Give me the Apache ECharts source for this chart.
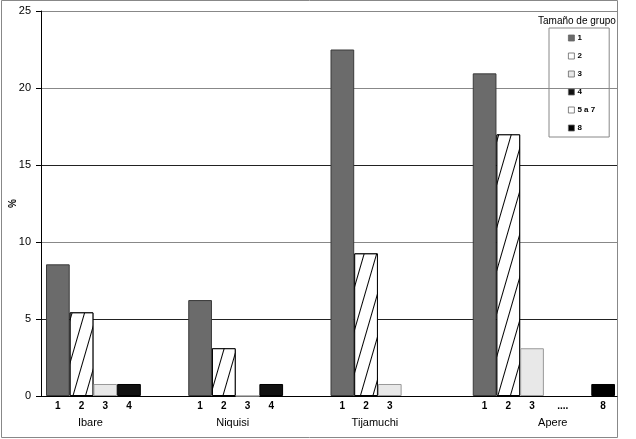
<!DOCTYPE html>
<html>
<head>
<meta charset="utf-8">
<script src="https://cdn.jsdelivr.net/npm/echarts@6/dist/echarts.min.js"></script>
<style>
  html, body { margin: 0; padding: 0; background: #fff; }
  #chart { width: 636px; height: 439px; }
</style>
</head>
<body>
<div id="chart"></div>
<script>
// slot labels under each bar (one slot per bar position)
const slotLabels = ['1','2','3','4','','','1','2','3','4','','','1','2','3','','','','1','2','3','....','','8']
const groups = ['Ibare', 'Niquisi', 'Tijamuchi', 'Apere']
const sizeNames = ['1', '2', '3', '4', '5 a 7', '8']

// % por tamaño de grupo, en orden de groups
const pct1 = [8.55, 6.23, 22.5, 20.95]
const pct2 = [5.43, 3.10, 9.26, 16.99]
const pct3 = [0.78, 0, 0.78, 3.10]
const pct4 = [0.78, 0.78, null, null]
const pct5a7 = [null, null, null, null]
const pct8 = [null, null, null, 0.78]
const yTicks = [0, 5, 10, 15, 20, 25]

// layout: first slot of each group, slot offset of each size, group label centre (in slots)
const groupStart = [0, 6, 12, 18]
const sizeOffset = [0, 1, 2, 3, 4, 5]
const groupLabelAt = [1.875, 7.875, 13.875, 21.375]

const FONT = 'Liberation Sans'
const allPct = [pct1, pct2, pct3, pct4, pct5a7, pct8]

function slotData(values, offset) {
  const out = slotLabels.map(() => '-')
  values.forEach((v, g) => {
    if (v != null) out[groupStart[g] + offset] = v
  })
  return out
}

const styles = [
  { color: '#6b6b6b', borderColor: '#3a3a3a', borderWidth: 1 },
  { color: '#ffffff', borderColor: '#000', borderWidth: 1,
    decal: { symbol: 'rect', symbolSize: 1, color: '#000', backgroundColor: '#fff',
             dashArrayX: [1, 0], dashArrayY: [1, 11], rotation: -Math.PI * 0.41 } },
  { color: '#e8e8e8', borderColor: '#9a9a9a', borderWidth: 1 },
  { color: '#111111', borderColor: '#000', borderWidth: 1 },
  { color: '#ffffff', borderColor: '#000', borderWidth: 1 },
  { color: '#000000', borderColor: '#000', borderWidth: 1 }
]

const series = sizeNames.map((name, i) => ({
  name,
  type: 'bar',
  stack: 'all',
  xAxisIndex: 1,
  yAxisIndex: 1,
  barCategoryGap: '0%',
  itemStyle: styles[i],
  emphasis: { disabled: true },
  data: slotData(allPct[i], sizeOffset[i])
}))

const chart = echarts.init(document.getElementById('chart'))
chart.setOption({
  animation: false,
  textStyle: { fontFamily: FONT },
  title: {
    text: 'Tamaño de grupo',
    left: 533, top: 11,
    textStyle: { fontSize: 10, fontWeight: 'normal', color: '#000', fontFamily: FONT }
  },
  legend: {
    orient: 'vertical',
    left: 549, top: 28,
    padding: [5, 14, 4, 19],
    borderColor: '#888', borderWidth: 1,
    itemWidth: 6, itemHeight: 6, itemGap: 8,
    icon: 'rect',
    itemStyle: { borderColor: '#666', borderWidth: 0.8, decal: 'none' },
    textStyle: { fontSize: 8, fontWeight: 'bold', color: '#000', padding: [0, 0, 0, -2], lineHeight: 10 },
    data: sizeNames
  },
  grid: [
    { left: 41, right: 19, top: 11, bottom: 43, outerBoundsMode: 'none', containLabel: false },
    { left: 46, right: 21, top: 11, bottom: 43, outerBoundsMode: 'none', containLabel: false }
  ],
  xAxis: [
    {
      gridIndex: 0, type: 'category', data: ['x'], position: 'bottom',
      axisLine: { lineStyle: { color: '#000', width: 1 } },
      axisTick: { show: false }, axisLabel: { show: false }
    },
    {
      gridIndex: 1, type: 'category', position: 'bottom',
      data: slotLabels.map(l => l === '....' ? { value: l, textStyle: { padding: [0, 0, 0, 14] } } : l),
      axisLine: { show: false }, axisTick: { show: false },
      axisLabel: { interval: 0, margin: 5, fontSize: 10, fontWeight: 'bold', color: '#000' }
    },
    {
      gridIndex: 1, type: 'value', position: 'bottom', min: 0, max: slotLabels.length,
      axisLine: { show: false }, axisTick: { show: false }, splitLine: { show: false },
      axisLabel: {
        customValues: groupLabelAt, margin: 21, fontSize: 11, color: '#000',
        formatter: v => groups[groupLabelAt.indexOf(v)] || ''
      }
    }
  ],
  yAxis: [
    {
      gridIndex: 0, type: 'value', min: yTicks[0], max: yTicks[yTicks.length - 1], interval: 5,
      name: '%', nameLocation: 'middle', nameGap: 23, nameRotate: 90, nameMoveOverlap: false,
      nameTextStyle: { fontSize: 10, fontWeight: 'bold', color: '#000' },
      axisLine: { show: true, lineStyle: { color: '#000' } },
      axisTick: { show: true, length: 5, lineStyle: { color: '#000' } },
      axisLabel: { margin: 10, fontSize: 11, color: '#000' },
      splitLine: { lineStyle: { color: ['#000', '#222', '#888', '#222', '#888', '#888'], width: 1 } }
    },
    {
      gridIndex: 1, type: 'value', min: yTicks[0], max: yTicks[yTicks.length - 1], interval: 5,
      show: false, splitLine: { show: false }
    }
  ],
  graphic: [{
    type: 'rect', silent: true, z: -1,
    shape: { x: 1.5, y: 0.5, width: 616, height: 437 },
    style: { fill: 'none', stroke: '#888', lineWidth: 1 }
  }],
  series
})
</script>
</body>
</html>
